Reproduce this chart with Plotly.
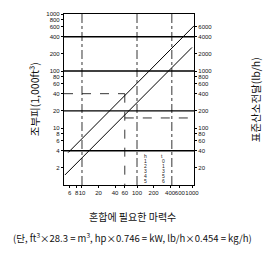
import plotly.graph_objects as go
import math

# --- data ---
x_ticks = [6, 8, 10, 20, 40, 60, 100, 200, 400, 600, 1000]
y_ticks = [2, 4, 6, 8, 10, 20, 40, 60, 80, 100, 200, 400, 600, 800, 1000]
y2_ticks = [20, 40, 60, 80, 100, 200, 400, 600, 800, 1000, 2000, 4000, 6000]

# volume line (left axis, 1,000 ft3) vs mixing horsepower
hp_volume = [5.6, 1087]
volume = [3.7, 620]
# oxygen transfer line (right axis, lb/h) vs mixing horsepower
hp_oxygen = [4.9, 1000]
oxygen = [15, 2590]

solid_levels = [400, 100, 20, 4]          # left-axis solid grid lines
dashdot_hp = [10, 100, 430]               # vertical dash-dot lines
example_volume = 40
example_hp = 60
example_oxygen = 150

x_range = [4.71, 1087]
y_range = [1, 1000]
y2_range = [10, 10000]

tick_font = dict(family="Liberation Sans Narrow, Liberation Sans", size=6, color="#111")
kr = "Noto Sans CJK KR"

fig = go.Figure()

def line(x, y, dash="solid", width=1, yaxis="y"):
    fig.add_trace(go.Scatter(x=x, y=y, mode="lines", yaxis=yaxis,
                             line=dict(color="black", width=width, dash=dash),
                             hoverinfo="skip", showlegend=False))

for lv in solid_levels:
    line(x_range, [lv, lv], width=1.4)
for h in dashdot_hp:
    line([h, h], y_range, dash="dashdot", width=0.8)

line([x_range[0], example_hp], [example_volume, example_volume], dash="dash", width=0.8)
line([example_hp, example_hp], [example_volume, y_range[0]], dash="dash", width=0.8)
line([example_hp, x_range[1]], [example_oxygen, example_oxygen], dash="dash", width=0.8, yaxis="y2")

line(hp_volume, volume, width=1)
line(hp_oxygen, oxygen, width=1, yaxis="y2")

fig.update_layout(
    width=265, height=255,
    margin=dict(l=64, r=71, t=11, b=70),
    paper_bgcolor="white", plot_bgcolor="white",
    xaxis=dict(type="log", range=[math.log10(v) for v in x_range],
               tickvals=x_ticks, ticktext=[str(v) for v in x_ticks], tickangle=0,
               showgrid=False, zeroline=False, showline=True, linecolor="black",
               linewidth=1.2, mirror=True, ticks="outside", ticklen=2,
               tickcolor="black", tickfont=tick_font),
    yaxis=dict(type="log", range=[math.log10(v) for v in y_range],
               tickvals=y_ticks, ticktext=[str(v) for v in y_ticks],
               showgrid=False, zeroline=False, showline=True, linecolor="black",
               linewidth=1.2, ticks="outside", ticklen=2, tickcolor="black",
               tickfont=tick_font),
    yaxis2=dict(type="log", range=[math.log10(v) for v in y2_range],
                overlaying="y", side="right",
                tickvals=y2_ticks, ticktext=[str(v) for v in y2_ticks],
                showgrid=False, zeroline=False, showline=True, linecolor="black",
                linewidth=1.2, ticks="outside", ticklen=2, tickcolor="black",
                tickfont=tick_font),
)

annotations = [
    dict(text="조부피(1,000ft³)", x=-0.225, y=0.5, textangle=-90,
         font=dict(family=kr, size=10.5, color="#111")),
    dict(text="표준산소전달(lb/h)", x=1.475, y=0.5, textangle=-90,
         font=dict(family=kr, size=10.5, color="#111")),
    dict(text="혼합에 필요한 마력수", x=(132 - 64) / 130, y=-(217 - 185) / 174,
         font=dict(family=kr, size=10, color="#111")),
    dict(text="(단, ft<sup>3</sup>×28.3 = m<sup>3</sup>, hp×0.746 = kW, lb/h×0.454 = kg/h)",
         x=(132 - 64) / 130, y=-(238 - 185) / 174,
         font=dict(family=kr, size=9.5, color="#111")),
]
# small table in lower right
tbl_font = dict(family="Liberation Sans", size=5, color="#222")
annotations.append(dict(text="h", x=(145 - 64) / 130, y=(185 - 155) / 174, font=tbl_font))
annotations.append(dict(text="t", x=(162 - 64) / 130, y=(185 - 155) / 174, font=tbl_font))
for i, (a, b) in enumerate(zip(["1", "2", "3", "4", "5"], ["0", "1", "3", "5", "6"])):
    yy = (185 - (161 + i * 5)) / 174
    annotations.append(dict(text=a, x=(145 - 64) / 130, y=yy, font=tbl_font))
    annotations.append(dict(text=b, x=(163 - 64) / 130, y=yy, font=tbl_font))
for a in annotations:
    a.update(xref="paper", yref="paper", showarrow=False, xanchor="center", yanchor="middle")
fig.update_layout(annotations=annotations)

fig.write_html("out.html")
